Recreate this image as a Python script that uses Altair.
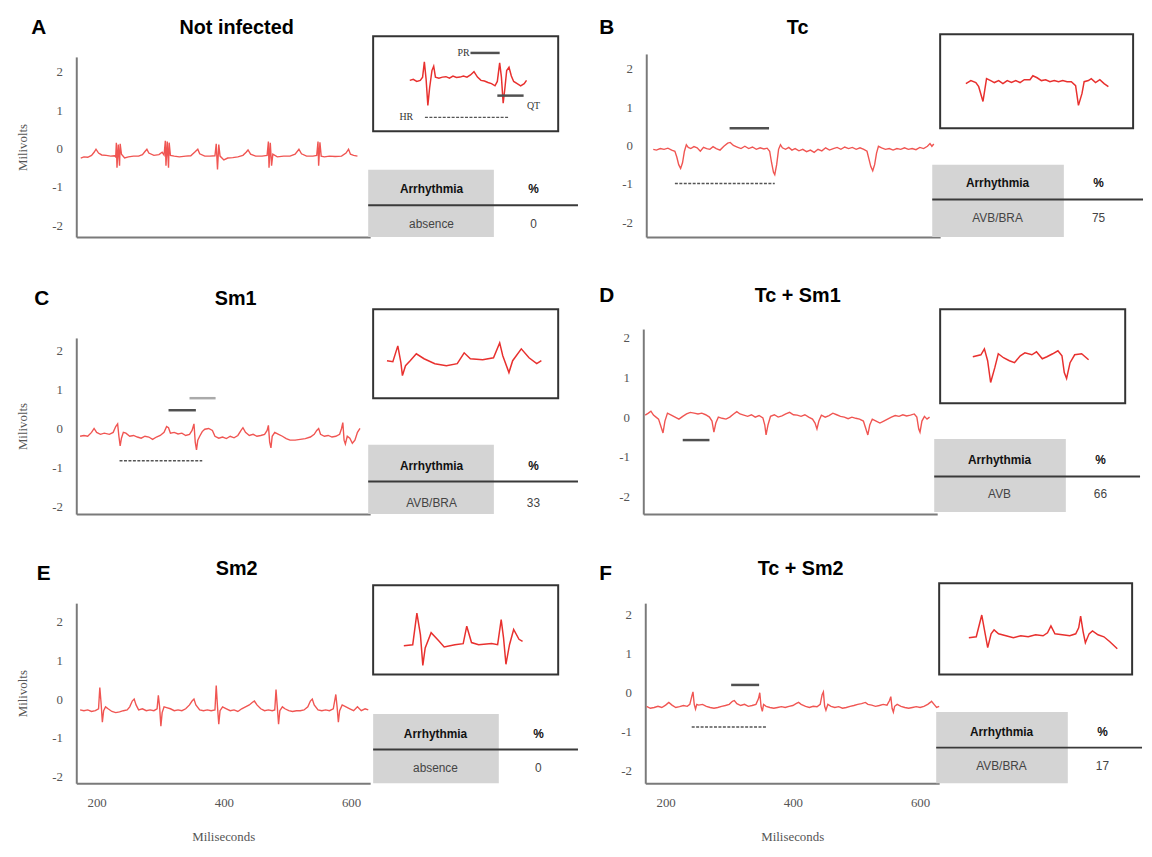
import altair as alt
import pandas as pd

# ---------------- data ----------------
X_TICKS = [200, 400, 600]
Y_TICKS = [-2, -1, 0, 1, 2]
X_DOMAIN = [168, 630]

TABLE_HEADER = ["Arrhythmia", "%"]

# main ECG traces: (milliseconds, millivolts)
A_TRACE = [(175,-0.25),(180,-0.22),(186,-0.23),(192,-0.18),(196,-0.1),(199,-0.02),(203,-0.12),(208,-0.17),(215,-0.18),(222,-0.2),(228,-0.19),
           (230,-0.22),(231,0.15),(232,-0.5),(234,0.1),(236,-0.45),(237,0.12),(239,-0.15),(244,-0.25),(250,-0.22),(258,-0.2),(266,-0.2),(272,-0.16),(276,-0.08),(279,-0.02),(282,-0.12),(290,-0.18),(298,-0.16),(303,-0.1),(306,-0.17),
           (308,0.2),(309,-0.45),(311,0.18),(313,-0.5),(314,0.15),(316,-0.18),(322,-0.2),(330,-0.22),(340,-0.2),(348,-0.19),(354,-0.1),(359,-0.02),(362,-0.14),(370,-0.2),(378,-0.2),(386,-0.19),
           (388,0.12),(390,-0.55),(392,0.1),(394,-0.2),(400,-0.3),(406,-0.25),(414,-0.24),(422,-0.22),(430,-0.18),(435,-0.1),(438,-0.04),(442,-0.15),(450,-0.2),(460,-0.2),(468,-0.18),
           (470,0.18),(471,-0.5),(473,0.15),(475,-0.45),(477,-0.15),(484,-0.22),(494,-0.2),(504,-0.2),(512,-0.15),(518,-0.02),(522,-0.14),(530,-0.2),(540,-0.2),(546,-0.18),
           (548,0.18),(549,-0.45),(551,0.16),(553,-0.2),(558,-0.22),(566,-0.2),(575,-0.21),(585,-0.2),(592,-0.12),(596,-0.02),(599,-0.15),(604,-0.18),(610,-0.2)]

B_TRACE = [(179,-0.1),(184,-0.12),(190,-0.08),(196,-0.1),(202,-0.07),(208,-0.12),(213,-0.15),(216,-0.3),(219,-0.5),(222,-0.6),(225,-0.45),(228,-0.15),(231,0.02),(234,-0.05),(238,-0.08),(243,-0.03),(248,-0.06),(253,-0.15),(258,-0.05),(263,-0.08),(268,-0.1),(273,-0.03),(278,-0.08),(284,-0.12),(290,-0.02),(296,0.06),(300,0.08),(305,0.0),(311,-0.04),(317,-0.08),(323,-0.02),(329,-0.08),(335,-0.04),(341,-0.1),(347,-0.06),(353,-0.09),(358,-0.07),(362,-0.15),(365,-0.45),(368,-0.7),(370,-0.76),(373,-0.5),(376,-0.1),(379,0.02),(382,-0.06),(387,-0.1),(392,-0.05),(397,-0.12),(402,-0.08),(408,-0.14),(414,-0.1),(420,-0.16),(426,-0.12),(432,-0.18),(438,-0.1),(444,-0.14),(450,-0.06),(456,-0.12),(462,-0.08),(468,-0.05),(474,-0.1),(480,-0.04),(486,-0.08),(492,-0.05),(498,-0.1),(504,-0.06),(510,-0.1),(515,-0.15),(518,-0.35),(521,-0.55),(524,-0.66),(527,-0.5),(530,-0.2),(533,-0.02),(538,-0.06),(544,-0.1),(550,-0.08),(556,-0.12),(562,-0.08),(568,-0.1),(574,-0.06),(580,-0.1),(586,-0.08),(592,-0.11),(598,-0.05),(604,-0.08),(610,-0.02),(614,0.05),(617,-0.02),(620,0.04)]

C_TRACE = [(174,-0.2),(180,-0.18),(186,-0.2),(192,-0.1),(196,0.0),(200,-0.1),(206,-0.15),(212,-0.12),(220,-0.15),(226,-0.1),(230,0.05),(233,0.12),(235,-0.2),(237,-0.45),(239,-0.25),(242,-0.1),(246,-0.12),(252,-0.2),(258,-0.18),(264,-0.22),(270,-0.25),(276,-0.2),(282,-0.22),(288,-0.28),(294,-0.22),(300,-0.18),(306,-0.1),(310,0.05),(313,0.02),(316,-0.12),(322,-0.1),(328,-0.14),(334,-0.12),(340,-0.18),(346,-0.15),(350,-0.05),(353,0.12),(355,-0.35),(357,-0.55),(359,-0.3),(362,-0.2),(366,-0.08),(370,-0.02),(376,0.0),(382,-0.05),(386,-0.2),(392,-0.25),(398,-0.22),(404,-0.26),(410,-0.2),(416,-0.24),(422,-0.18),(427,-0.05),(430,0.02),(434,-0.1),(440,-0.18),(446,-0.15),(452,-0.2),(458,-0.18),(464,-0.15),(468,-0.05),(470,0.08),(472,-0.35),(474,-0.5),(476,-0.2),(480,-0.1),(486,-0.15),(492,-0.2),(498,-0.26),(504,-0.3),(512,-0.3),(520,-0.28),(528,-0.26),(536,-0.22),(542,-0.15),(546,-0.05),(549,0.0),(552,-0.15),(558,-0.2),(564,-0.18),(570,-0.22),(576,-0.2),(582,-0.15),(585,0.0),(587,0.15),(589,-0.3),(591,-0.4),(594,-0.2),(598,-0.25),(602,-0.38),(606,-0.3),(610,-0.1),(614,0.0)]

D_TRACE = [(171,0.05),(176,0.1),(180,0.15),(184,0.05),(188,0.0),(192,-0.05),(196,-0.25),(199,-0.4),(202,-0.1),(206,0.1),(212,0.05),(218,0.0),(224,-0.05),(230,0.02),(236,0.08),(242,0.12),(248,0.1),(254,0.08),(260,0.1),(266,0.06),(272,0.0),(276,-0.1),(279,-0.38),(282,-0.15),(286,0.0),(292,-0.03),(298,-0.05),(304,0.0),(310,0.08),(315,0.14),(320,0.08),(326,0.05),(332,0.02),(338,0.06),(344,0.0),(350,0.04),(356,-0.02),(359,-0.2),(361,-0.45),(364,-0.2),(368,0.02),(374,0.06),(380,0.0),(386,0.03),(392,0.08),(398,0.12),(404,0.06),(410,0.05),(416,0.02),(422,0.06),(428,0.0),(434,-0.05),(438,-0.15),(441,-0.3),(444,-0.1),(448,0.05),(454,0.0),(460,0.04),(466,0.1),(472,0.06),(478,0.02),(484,0.0),(490,-0.04),(496,0.0),(502,-0.03),(508,-0.05),(514,-0.1),(518,-0.3),(521,-0.45),(524,-0.2),(528,-0.05),(534,-0.1),(540,-0.15),(546,-0.1),(552,-0.05),(558,0.0),(564,0.04),(570,0.02),(576,0.06),(582,0.03),(588,0.05),(594,0.08),(598,0.0),(601,-0.3),(603,-0.38),(606,-0.1),(610,0.02),(614,-0.05),(618,0.0)]

E_TRACE = [(174,-0.28),(180,-0.3),(186,-0.28),(192,-0.32),(198,-0.3),(203,-0.25),(205,0.3),(207,-0.1),(209,-0.6),(211,-0.3),(214,-0.2),(218,-0.25),(224,-0.32),(230,-0.35),(236,-0.33),(242,-0.3),(248,-0.28),(252,-0.2),(256,-0.05),(259,0.0),(262,-0.15),(266,-0.28),(272,-0.25),(278,-0.3),(284,-0.28),(290,-0.3),(295,-0.25),(297,0.1),(299,-0.2),(301,-0.7),(303,-0.35),(306,-0.2),(310,-0.22),(316,-0.25),(322,-0.3),(328,-0.28),(334,-0.3),(340,-0.25),(346,-0.15),(350,-0.05),(353,0.0),(356,-0.15),(362,-0.28),(368,-0.3),(374,-0.28),(380,-0.3),(386,-0.28),(388,0.35),(390,-0.2),(392,-0.65),(394,-0.3),(398,-0.2),(404,-0.25),(410,-0.3),(416,-0.28),(422,-0.32),(428,-0.25),(434,-0.2),(440,-0.15),(445,-0.08),(448,-0.05),(452,-0.15),(458,-0.25),(464,-0.3),(470,-0.28),(476,-0.3),(480,-0.28),(482,0.25),(484,-0.2),(486,-0.65),(488,-0.3),(492,-0.2),(496,-0.25),(502,-0.3),(508,-0.32),(514,-0.3),(520,-0.3),(526,-0.28),(532,-0.2),(536,-0.05),(539,0.0),(542,-0.15),(548,-0.28),(554,-0.3),(560,-0.28),(566,-0.3),(572,-0.25),(576,0.12),(578,-0.2),(580,-0.6),(582,-0.3),(586,-0.15),(592,-0.2),(598,-0.25),(604,-0.3),(610,-0.2),(616,-0.3),(622,-0.25),(627,-0.28)]

F_TRACE = [(170,-0.35),(176,-0.4),(182,-0.38),(188,-0.35),(194,-0.38),(200,-0.32),(205,-0.25),(210,-0.32),(216,-0.38),(222,-0.36),(228,-0.33),(234,-0.35),(238,-0.3),(241,-0.1),(243,0.02),(245,-0.3),(247,-0.42),(249,-0.3),(252,-0.32),(258,-0.3),(264,-0.35),(270,-0.38),(276,-0.4),(282,-0.38),(288,-0.35),(294,-0.33),(300,-0.3),(305,-0.22),(308,-0.2),(312,-0.28),(318,-0.33),(324,-0.3),(330,-0.35),(336,-0.33),(342,-0.3),(346,-0.15),(348,0.0),(350,-0.35),(352,-0.48),(354,-0.3),(358,-0.35),(364,-0.38),(370,-0.4),(376,-0.38),(382,-0.36),(388,-0.38),(394,-0.35),(400,-0.33),(405,-0.28),(409,-0.25),(413,-0.3),(420,-0.35),(426,-0.38),(432,-0.35),(438,-0.36),(443,-0.3),(446,-0.05),(448,0.02),(450,-0.35),(452,-0.45),(455,-0.3),(460,-0.35),(466,-0.38),(472,-0.36),(478,-0.4),(484,-0.38),(490,-0.35),(496,-0.33),(502,-0.3),(508,-0.28),(514,-0.25),(518,-0.3),(524,-0.32),(530,-0.35),(536,-0.33),(542,-0.3),(548,-0.32),(552,-0.2),(554,-0.1),(556,-0.4),(558,-0.5),(560,-0.35),(564,-0.3),(570,-0.35),(576,-0.38),(582,-0.4),(588,-0.38),(594,-0.36),(600,-0.38),(606,-0.35),(612,-0.3),(616,-0.25),(618,-0.22),(622,-0.3),(626,-0.38),(630,-0.35)]

# interval markers on the main traces: (ms start, ms end, mV, kind)
B_MARKS = [(299, 361, 0.45, "solid"), (213, 370, -0.99, "dash")]
C_MARKS = [(313, 356, 0.47, "solid"), (346, 387, 0.78, "light"), (236, 366, -0.83, "dash")]
D_MARKS = [(230, 272, -0.58, "solid")]
F_MARKS = [(303, 347, 0.2, "solid"), (241, 358, -0.88, "dash")]

# inset (zoomed) traces: (relative time 0-100, relative amplitude)
INSET_A = [(0,0.15),(3,0.2),(6,0.1),(9,0.15),(11,0.3),(12.5,1.0),(14,0.2),(15.5,-1.0),(17,-0.2),(19,0.6),(20.5,0.8),(22,0.3),(25,0.25),(28,0.3),(31,0.32),(34,0.25),(37,0.35),(40,0.28),(43,0.3),(46,0.35),(49,0.3),(52,0.4),(55,0.55),(58,0.3),(61,0.15),(64,0.12),(67,0.05),(70,0.0),(73,-0.1),(75,0.1),(77,0.95),(78.5,0.3),(80,-0.9),(81.5,-0.2),(83,0.6),(85,0.75),(87,0.35),(89,0.1),(92,0.0),(95,-0.1),(98,0.0),(100,0.15)]
INSET_B = [(0,0),(3.5,0.14),(7,0.05),(9,-0.14),(12,-0.82),(14.5,0.23),(17.4,0.14),(20,0.05),(23,0.14),(26,0),(29,0.14),(32,0.05),(35,0.14),(38,0.05),(41,0.18),(45,0.18),(47,0.36),(50,0.27),(53,0.14),(56,0.18),(59,0.09),(62,0.14),(65,0.09),(68,0.14),(71,0.09),(74,0.09),(77,-0.09),(79,-1.0),(81.5,-0.45),(83,0.09),(86,0.14),(88,0.23),(91,0.05),(94,0.18),(97,0),(100,-0.14)]
INSET_C = [(0,0),(3.8,-0.05),(7,0.75),(9,-0.1),(10,-0.75),(12,-0.25),(15,0),(19,0.35),(24,0.1),(31,-0.15),(38.5,-0.25),(45.5,-0.15),(50,0.4),(54,0.1),(62,0.05),(69,0.15),(73,0.9),(75,0.25),(79,-0.6),(81.4,0),(87,0.6),(92,0.15),(97,-0.15),(100,0)]
INSET_D = [(0,0),(7,0.1),(10,0.4),(12.8,-0.2),(15.4,-1.3),(19,-0.55),(22,0.15),(26.5,-0.05),(31.6,-0.2),(36,-0.3),(41,0.05),(45,0.2),(51,0.1),(55,0.25),(60,-0.1),(64,0),(69,0.15),(73.5,0.3),(77,0.05),(79,-0.8),(81,-1.1),(84,-0.3),(88,0.1),(94,0.15),(100,-0.15)]
INSET_E = [(0,-0.05),(7.5,0),(11,1.45),(14,0.45),(16,-0.95),(18,-0.15),(23,0.55),(29,0.2),(34,-0.1),(43,0),(50,0.05),(53,0.85),(57,0.1),(63,0),(74,0.05),(79,0),(82,1.15),(84,0.3),(86,-0.9),(89,0),(92.5,0.7),(97,0.25),(100,0.15)]
INSET_F = [(0,0),(5,0.05),(8.7,1.15),(11,0.2),(12.7,-0.5),(15,0.2),(17,0.4),(20,0.2),(25,0.1),(30,0.0),(35,0.1),(40,0.05),(45,0.15),(50,0.1),(53,0.25),(55.3,0.6),(58,0.2),(63,0.15),(68,0.1),(72,0.2),(74,0.5),(75.3,1.1),(77,0.3),(78.5,-0.25),(81,0.2),(83.3,0.35),(87,0.15),(91,0.05),(95,-0.2),(100,-0.55)]

# inset A interval labels: (label, t, v) and lines (t1, t2, v, kind)
INSET_A_LABELS = [("PR", 46, 1.4), ("QT", 106, -1.05), ("HR", -3, -1.55)]
INSET_A_MARKS = [(52, 77, 1.41, "solid"), (75, 97.5, -0.55, "solid"), (13, 85, -1.55, "dash")]

# tables: arrhythmia type and %
A_TABLE = ["absence", "0"]
B_TABLE = ["AVB/BRA", "75"]
C_TABLE = ["AVB/BRA", "33"]
D_TABLE = ["AVB", "66"]
E_TABLE = ["absence", "0"]
F_TABLE = ["AVB/BRA", "17"]

# ---------------- styling / layout ----------------
RED = "#f05552"
INSET_RED = "#e8302e"
SERIF = "Liberation Serif"
SANS = "Liberation Sans"
PLOT_W = 297
W_LEFT = 510
W_RIGHT = 502


def sc(dom, rng):
    return alt.Scale(domain=dom, range=rng, nice=False, zero=False)


def text_layer(txt, x, y, size, weight="normal", font=SANS, color="#111", align="center"):
    return alt.Chart(pd.DataFrame({"t": [txt]})).mark_text(
        fontSize=size, fontWeight=weight, font=font, color=color, align=align, baseline="middle"
    ).encode(text="t:N", x=alt.value(x), y=alt.value(y))


def rule_layer(df, xs, ys, kind):
    style = {
        "solid": dict(color="#505050", strokeWidth=2.5),
        "light": dict(color="#aaaaaa", strokeWidth=2.5),
        "dash": dict(color="#555555", strokeWidth=1.5, strokeDash=[3, 1.5]),
    }[kind]
    return alt.Chart(df).mark_rule(**style).encode(
        x=alt.X("a:Q", scale=xs, axis=None),
        x2="b:Q",
        y=alt.Y("v:Q", scale=ys, axis=None),
    )


def panel(p):
    W, H = p["W"], p["H"]
    xs = sc(X_DOMAIN, [0, PLOT_W])
    ys = sc(p["ydom"], [H, p["ytop"]])
    ykw = dict(values=Y_TICKS, labelExpr="'' + datum.value", labelPadding=14)
    if p["ytitle"]:
        ykw.update(title="Milivolts", titlePadding=22, titleFont=SERIF, titleFontSize=13,
                   titleFontWeight="normal", titleColor="#555")
    else:
        ykw.update(title=None)
    if p["xlabels"]:
        xkw = dict(values=X_TICKS, labelPadding=13, title="Miliseconds", titlePadding=22,
                   titleFont=SERIF, titleFontSize=13, titleFontWeight="normal", titleColor="#555")
    else:
        xkw = dict(values=X_TICKS, labels=False, title=None)

    df = pd.DataFrame(p["trace"], columns=["ms", "mv"])
    layers = [
        alt.Chart(df).mark_line(color=RED, strokeWidth=1.4).encode(
            x=alt.X("ms:Q", scale=xs, axis=alt.Axis(**xkw)),
            y=alt.Y("mv:Q", scale=ys, axis=alt.Axis(**ykw)),
        )
    ]
    for a, b, v, kind in p["marks"]:
        layers.append(rule_layer(pd.DataFrame({"a": [a], "b": [b], "v": [v]}), xs, ys, kind))

    # inset box and zoomed trace
    bx0, by0, bx1, by1 = p["box"]
    layers.append(
        alt.Chart(pd.DataFrame({"k": [0]})).mark_rect(fill="white", stroke="#333", strokeWidth=2).encode(
            x=alt.value(bx0), x2=alt.value(bx1), y=alt.value(by0), y2=alt.value(by1))
    )
    ixs = sc([0, 100], p["ix"])
    iys = sc([-1.5, 1.5], p["iy"])
    idf = pd.DataFrame(p["inset"], columns=["t", "v"])
    layers.append(
        alt.Chart(idf).mark_line(color=INSET_RED, strokeWidth=1.5).encode(
            x=alt.X("t:Q", scale=ixs, axis=None), y=alt.Y("v:Q", scale=iys, axis=None))
    )
    for a, b, v, kind in p.get("imarks", []):
        layers.append(rule_layer(pd.DataFrame({"a": [a], "b": [b], "v": [v]}), ixs, iys, kind))
    if p.get("ilabels"):
        ldf = pd.DataFrame(p["ilabels"], columns=["lab", "t", "v"])
        layers.append(
            alt.Chart(ldf).mark_text(font=SERIF, fontSize=10, color="#333").encode(
                text="lab:N", x=alt.X("t:Q", scale=ixs, axis=None), y=alt.Y("v:Q", scale=iys, axis=None))
        )

    # table
    gx0, gx1, gy0, gy1, sepy, sepx1, c1, c2, hy, by = p["tab"]
    layers.append(
        alt.Chart(pd.DataFrame({"k": [0]})).mark_rect(fill="#d4d4d4").encode(
            x=alt.value(gx0), x2=alt.value(gx1), y=alt.value(gy0), y2=alt.value(gy1))
    )
    layers.append(
        alt.Chart(pd.DataFrame({"k": [0]})).mark_rule(color="#3a3a3a", strokeWidth=2).encode(
            x=alt.value(gx0), x2=alt.value(sepx1), y=alt.value(sepy))
    )
    layers.append(text_layer(TABLE_HEADER[0], c1, hy, 12, "bold"))
    layers.append(text_layer(TABLE_HEADER[1], c2, hy, 12, "bold"))
    layers.append(text_layer(p["table"][0], c1, by, 12, "normal", color="#444"))
    layers.append(text_layer(p["table"][1], c2, by, 12, "normal", color="#444"))

    # panel letter and title
    lx, ly = p["letter_pos"]
    tx, ty = p["title_pos"]
    layers.append(text_layer(p["letter"], lx, ly, 21, "bold", color="#000"))
    layers.append(text_layer(p["title"], tx, ty, 20, "bold", color="#000"))

    return alt.layer(*layers).resolve_scale(x="independent", y="independent").properties(width=W, height=H)


PANELS = {
    "A": dict(letter="A", title="Not infected", trace=A_TRACE, marks=[], inset=INSET_A,
              imarks=INSET_A_MARKS, ilabels=INSET_A_LABELS, table=A_TABLE,
              W=W_LEFT, H=227, ydom=[-2.31, 2.387], ytop=45, ytitle=True, xlabels=False,
              letter_pos=(-38, 16), title_pos=(162, 16),
              box=(300, 24, 487, 120), ix=[337, 455], iy=[105, 39],
              tab=(295, 422, 159, 227, 195, 507, 359, 462, 179, 214)),
    "B": dict(letter="B", title="Tc", trace=B_TRACE, marks=B_MARKS, inset=INSET_B, table=B_TABLE,
              W=W_RIGHT, H=227, ydom=[-2.387, 2.387], ytop=42, ytitle=False, xlabels=False,
              letter_pos=(-40, 16), title_pos=(153, 16),
              box=(297, 22, 492, 117), ix=[323, 467], iy=[105, 39],
              tab=(289, 422, 154, 227, 189, 502, 355, 457, 172, 208)),
    "C": dict(letter="C", title="Sm1", trace=C_TRACE, marks=C_MARKS, inset=INSET_C, table=C_TABLE,
              W=W_LEFT, H=270, ydom=[-2.204, 2.331], ytop=92, ytitle=True, xlabels=False,
              letter_pos=(-35, 53), title_pos=(161, 53),
              box=(300, 63, 487, 153), ix=[314, 470], iy=[145, 85],
              tab=(295, 422, 200, 270, 237, 507, 359, 462, 221, 259)),
    "D": dict(letter="D", title="Tc + Sm1", trace=D_TRACE, marks=D_MARKS, inset=INSET_D, table=D_TABLE,
              W=W_RIGHT, H=270, ydom=[-2.45, 2.225], ytop=83, ytitle=False, xlabels=False,
              letter_pos=(-37, 50), title_pos=(156, 50),
              box=(300, 63, 487, 158), ix=[333, 450], iy=[141, 81],
              tab=(294, 427, 194, 268, 232, 502, 360, 462, 215, 250)),
    "E": dict(letter="E", title="Sm2", trace=E_TRACE, marks=[], inset=INSET_E, table=E_TABLE,
              W=W_LEFT, H=262, ydom=[-2.18, 2.487], ytop=80, ytitle=True, xlabels=True,
              letter_pos=(-33, 51), title_pos=(162, 46),
              box=(300, 62, 487, 152), ix=[331, 451], iy=[155, 89],
              tab=(300, 427, 192, 262, 228, 507, 363, 467, 212, 247)),
    "F": dict(letter="F", title="Tc + Sm2", trace=F_TRACE, marks=F_MARKS, inset=INSET_F, table=F_TABLE,
              W=W_RIGHT, H=262, ydom=[-2.331, 2.306], ytop=80, ytitle=False, xlabels=True,
              letter_pos=(-40, 51), title_pos=(157, 46),
              box=(297, 60, 492, 152), ix=[327, 477], iy=[145, 85],
              tab=(294, 427, 190, 262, 226, 502, 360, 462, 210, 245)),
}

rows = [
    alt.hconcat(panel(PANELS["A"]), panel(PANELS["B"]), spacing=18),
    alt.hconcat(panel(PANELS["C"]), panel(PANELS["D"]), spacing=18),
    alt.hconcat(panel(PANELS["E"]), panel(PANELS["F"]), spacing=18),
]

chart = alt.vconcat(*rows, spacing=10).properties(
    padding={"left": 9, "top": 0, "right": 0, "bottom": 0}
).configure_view(stroke=None).configure_axis(
    domainColor="#7a7a7a", domainWidth=2, ticks=False, grid=False,
    labelFont=SERIF, labelFontSize=13, labelColor="#555"
)

chart.save("out.html", embed_options={"renderer": "svg", "actions": False})
